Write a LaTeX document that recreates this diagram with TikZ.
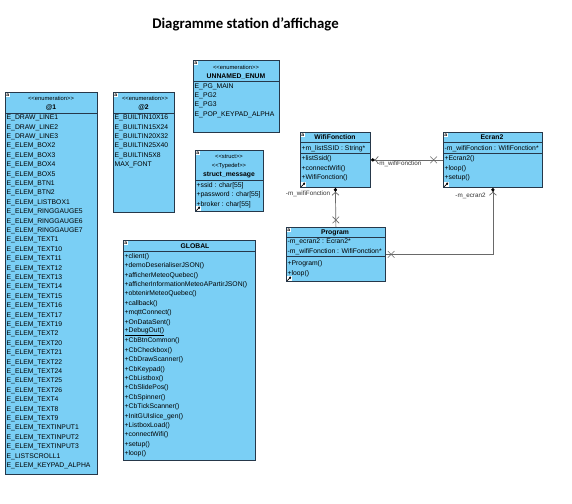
\documentclass[tikz,border=0pt]{standalone}
\usepackage{fontspec}
\setmainfont{Liberation Sans}
\newfontfamily\titlefont{Carlito}
\usetikzlibrary{arrows.meta, shapes.misc}
\definecolor{vpblue}{RGB}{122,207,245}
\definecolor{vpline}{RGB}{38,56,74}
\definecolor{linkgray}{RGB}{105,105,105}

\begin{document}
\begin{tikzpicture}[x=1pt, y=-1pt,
    cls/.style={draw=vpline, fill=vpblue, line width=0.8pt, inner sep=0pt, anchor=north west},
    sepl/.style={vpline, line width=0.8pt},
    item/.style={font=\fontsize{6.8}{7}\selectfont, inner sep=0pt, anchor=west},
    stereo/.style={font=\fontsize{5.8}{6}\selectfont, inner sep=0pt},
    hdr/.style={font=\fontsize{6.8}{7}\selectfont\bfseries, inner sep=0pt},
    aico/.style={fill=white, inner sep=0.4pt, anchor=north west, font=\fontsize{5}{5}\selectfont\bfseries},
    refico/.style={fill=white, minimum size=5pt, inner sep=0pt, anchor=south west},
    assoc/.style={linkgray, line width=0.7pt},
    owner/.style={{Diamond[length=4pt,width=3.5pt,black]Straight Barb[length=3pt,width=7pt]}-},
    nonav/.style={cross out, draw=linkgray, line width=0.6pt, minimum size=6pt, inner sep=0pt},
    lbl/.style={font=\fontsize{6.3}{7}\selectfont, inner sep=1pt, text=black!80},
    ttl/.style={font=\titlefont\bfseries\fontsize{14.8}{16}\selectfont}
  ]
  \path[use as bounding box, fill=white] (0,0) rectangle (572,503);

  \node[ttl] (title) at (245.5,24) {Diagramme station d’affichage};

  % enumerations
  \node[cls, minimum width=92pt, minimum height=382pt] (enumA) at (5,92) {};
  \node[stereo] (enumA-s) at (51,98.5) {<{}<enumeration>{}>};
  \node[hdr] (enumA-n) at (51,107.5) {@1};
  \draw[sepl] (5,113) -- (97,113);
  \foreach \txt [count=\i] in {E\_DRAW\_LINE1, E\_DRAW\_LINE2, E\_DRAW\_LINE3,
      E\_ELEM\_BOX2, E\_ELEM\_BOX3, E\_ELEM\_BOX4, E\_ELEM\_BOX5, E\_ELEM\_BTN1,
      E\_ELEM\_BTN2, E\_ELEM\_LISTBOX1, E\_ELEM\_RINGGAUGE5, E\_ELEM\_RINGGAUGE6,
      E\_ELEM\_RINGGAUGE7, E\_ELEM\_TEXT1, E\_ELEM\_TEXT10, E\_ELEM\_TEXT11,
      E\_ELEM\_TEXT12, E\_ELEM\_TEXT13, E\_ELEM\_TEXT14, E\_ELEM\_TEXT15,
      E\_ELEM\_TEXT16, E\_ELEM\_TEXT17, E\_ELEM\_TEXT19, E\_ELEM\_TEXT2,
      E\_ELEM\_TEXT20, E\_ELEM\_TEXT21, E\_ELEM\_TEXT22, E\_ELEM\_TEXT24,
      E\_ELEM\_TEXT25, E\_ELEM\_TEXT26, E\_ELEM\_TEXT4, E\_ELEM\_TEXT8,
      E\_ELEM\_TEXT9, E\_ELEM\_TEXTINPUT1, E\_ELEM\_TEXTINPUT2, E\_ELEM\_TEXTINPUT3,
      E\_LISTSCROLL1, E\_ELEM\_KEYPAD\_ALPHA}
    \node[item] (enumA-\i) at (6.5,{118+9.4*(\i-1)}) {\txt};

  \node[cls, minimum width=61pt, minimum height=120pt] (enumB) at (113,92) {};
  \node[stereo] (enumB-s) at (145,98.5) {<{}<enumeration>{}>};
  \node[hdr] (enumB-n) at (143.5,107.5) {@2};
  \draw[sepl] (113,113) -- (174,113);
  \foreach \txt [count=\i] in {E\_BUILTIN10X16, E\_BUILTIN15X24, E\_BUILTIN20X32,
      E\_BUILTIN25X40, E\_BUILTIN5X8, MAX\_FONT}
    \node[item] (enumB-\i) at (114.5,{118+9.4*(\i-1)}) {\txt};

  \node[cls, minimum width=86pt, minimum height=72pt] (enumC) at (193,60) {};
  \node[stereo] (enumC-s) at (236,67) {<{}<enumeration>{}>};
  \node[hdr] (enumC-n) at (236,76.5) {UNNAMED\_ENUM};
  \draw[sepl] (193,81.5) -- (279,81.5);
  \foreach \txt [count=\i] in {E\_PG\_MAIN, E\_PG2, E\_PG3, E\_POP\_KEYPAD\_ALPHA}
    \node[item] (enumC-\i) at (194.5,{86.5+9.4*(\i-1)}) {\txt};

  % struct
  \node[cls, minimum width=68pt, minimum height=61pt] (strct) at (195,150) {};
  \node[stereo] (strct-s1) at (229,157) {<{}<struct>{}>};
  \node[stereo] (strct-s2) at (229,166) {<{}<Typedef>{}>};
  \node[hdr] (strct-n) at (229,175.5) {struct\_message};
  \draw[sepl] (195,180.5) -- (263,180.5);
  \foreach \txt [count=\i] in {{+ssid : char[55]}, {+password : char[55]}, {+broker : char[55]}}
    \node[item] (strct-\i) at (196.5,{185.5+9.4*(\i-1)}) {\txt};

  % global functions
  \node[cls, minimum width=132pt, minimum height=220pt] (glob) at (123,240) {};
  \node[hdr] (glob-n) at (195,246) {GLOBAL};
  \draw[sepl] (123,251.5) -- (255,251.5);
  \foreach \txt [count=\i] in {+client(), +demoDeserialiserJSON(), +afficherMeteoQuebec(),
      +afficherInformationMeteoAPartirJSON(), +obtenirMeteoQuebec(), +callback(),
      +mqttConnect(), +OnDataSent(), \underline{+DebugOut()}, +CbBtnCommon(),
      +CbCheckbox(), +CbDrawScanner(), +CbKeypad(), +CbListbox(), +CbSlidePos(),
      +CbSpinner(), +CbTickScanner(), +InitGUIslice\_gen(), +ListboxLoad(),
      +connectWifi(), +setup(), +loop()}
    \node[item] (glob-\i) at (124.5,{256.5+9.4*(\i-1)}) {\txt};

  % classes
  \node[cls, minimum width=70pt, minimum height=55pt] (wifi) at (300,132) {};
  \node[hdr] (wifi-n) at (335,137.5) {WifiFonction};
  \draw[sepl] (300,142.5) -- (370,142.5);
  \node[item] (wifi-1) at (301.5,148.5) {+m\_listSSID : String*};
  \draw[sepl] (300,153.5) -- (370,153.5);
  \node[item] (wifi-2) at (301.5,159) {+listSsid()};
  \node[item] (wifi-3) at (301.5,168.5) {+connectWifi()};
  \node[item] (wifi-4) at (301.5,178) {+WifiFonction()};

  \node[cls, minimum width=99pt, minimum height=55pt] (ecran) at (443,132) {};
  \node[hdr] (ecran-n) at (492,137.5) {Ecran2};
  \draw[sepl] (443,142.5) -- (542,142.5);
  \node[item] (ecran-1) at (444.5,148.5) {-m\_wifiFonction : WifiFonction*};
  \draw[sepl] (443,153.5) -- (542,153.5);
  \node[item] (ecran-2) at (444.5,159) {+Ecran2()};
  \node[item] (ecran-3) at (444.5,168.5) {+loop()};
  \node[item] (ecran-4) at (444.5,178) {+setup()};

  \node[cls, minimum width=99pt, minimum height=54pt] (prog) at (286,227) {};
  \node[hdr] (prog-n) at (335,232.5) {Program};
  \draw[sepl] (286,237) -- (385,237);
  \node[item] (prog-1) at (287.5,242) {-m\_ecran2 : Ecran2*};
  \node[item] (prog-2) at (287.5,251.4) {-m\_wifiFonction : WifiFonction*};
  \draw[sepl] (286,256.5) -- (385,256.5);
  \node[item] (prog-3) at (287.5,264) {+Program()};
  \node[item] (prog-4) at (287.5,273.4) {+loop()};

  % icons
  \foreach \b in {enumA, enumB, enumC, strct, glob, wifi, ecran, prog}
    \node[aico] (\b-a) at ([xshift=0.8pt,yshift=-0.8pt]\b.north west) {a};
  \foreach \b in {strct, wifi, ecran, prog} {
    \node[refico] (\b-r) at ([xshift=0.4pt,yshift=0.4pt]\b.south west) {};
    \draw[-{Triangle[length=2pt,width=2.6pt]}, line width=0.7pt]
      ([xshift=0.8pt,yshift=0.8pt]\b-r.south west) -- ([xshift=-0.6pt,yshift=-0.6pt]\b-r.north east);
  }

  % associations
  \draw[assoc, owner] (wifi.east) -- node[nonav, pos=0.87] (x1) {}
    node[lbl, anchor=north west, pos=0.07] (l1) {-m\_wifiFonction} (ecran.west);
  \draw[assoc, owner] (wifi.south) -- node[nonav, pos=0.82] (x2) {}
    node[lbl, anchor=north east, pos=0.05, xshift=-4pt] (l2) {-m\_wifiFonction} (prog.north);
  \draw[assoc, owner] (ecran.south) |- node[lbl, anchor=north east, pos=0.03, xshift=-6pt] (l3) {-m\_ecran2}
    node[nonav, pos=0.975] (x3) {} (prog.east);
\end{tikzpicture}
\end{document}
